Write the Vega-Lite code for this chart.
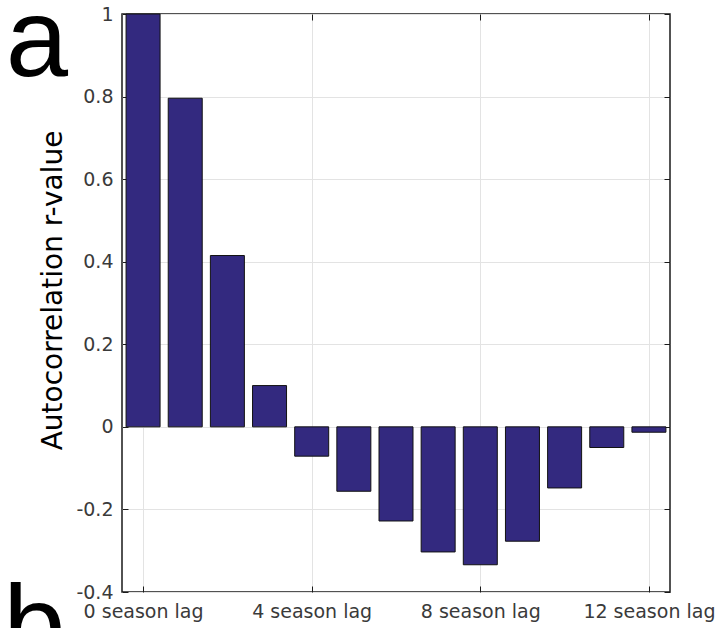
{
  "$schema": "https://vega.github.io/schema/vega-lite/v6.json",
  "width": 548,
  "height": 578,
  "autosize": "none",
  "padding": {"left": 122, "top": 14, "right": 48, "bottom": 36},
  "background": "white",
  "config": {
    "view": {"stroke": "#1a1a1a", "strokeWidth": 1.5},
    "font": "DejaVu Sans",
    "axis": {
      "labelFont": "DejaVu Sans",
      "titleFont": "DejaVu Sans",
      "labelColor": "#3a3a3a",
      "gridColor": "#e3e3e3",
      "gridWidth": 1,
      "tickColor": "#1a1a1a",
      "domain": false
    }
  },
  "resolve": {"axis": {"x": "independent", "y": "independent"}},
  "layer": [
    {
      "data": {
        "values": [
          {"lag": 0, "r": 1.0},
          {"lag": 1, "r": 0.796},
          {"lag": 2, "r": 0.415},
          {"lag": 3, "r": 0.1},
          {"lag": 4, "r": -0.071},
          {"lag": 5, "r": -0.156},
          {"lag": 6, "r": -0.228},
          {"lag": 7, "r": -0.303},
          {"lag": 8, "r": -0.334},
          {"lag": 9, "r": -0.277},
          {"lag": 10, "r": -0.148},
          {"lag": 11, "r": -0.05},
          {"lag": 12, "r": -0.013}
        ]
      },
      "mark": {"type": "bar", "width": 34, "color": "#33297f", "stroke": "#121212", "strokeWidth": 1},
      "encoding": {
        "x": {
          "field": "lag",
          "type": "quantitative",
          "scale": {"domain": [-0.5, 12.5], "nice": false, "zero": false, "padding": 0},
          "axis": {
            "orient": "bottom",
            "title": null,
            "values": [0, 4, 8, 12],
            "labelExpr": "datum.value + ' season lag'",
            "labelFontSize": 19,
            "tickSize": -6,
            "labelPadding": 16,
            "grid": true
          }
        },
        "y": {
          "field": "r",
          "type": "quantitative",
          "scale": {"domain": [-0.4, 1], "nice": false, "zero": false, "padding": 0},
          "axis": {
            "orient": "left",
            "title": "Autocorrelation r-value",
            "titleFontSize": 28,
            "titleFontWeight": "normal",
            "titleColor": "#000000",
            "titlePadding": 8,
            "titleY": 276,
            "values": [-0.4, -0.2, 0, 0.2, 0.4, 0.6, 0.8, 1],
            "labelExpr": "toString(round(datum.value * 10) / 10)",
            "labelFontSize": 19,
            "tickSize": -6,
            "labelPadding": 15,
            "grid": true
          }
        }
      }
    },
    {
      "data": {
        "values": [
          {"label": "a", "lag": -2.52, "r": 0.851},
          {"label": "b", "lag": -2.58, "r": -0.573}
        ]
      },
      "mark": {"type": "text", "font": "Liberation Sans", "fontSize": 112, "align": "center", "baseline": "alphabetic", "color": "#000000"},
      "encoding": {
        "text": {"field": "label"},
        "x": {
          "field": "lag",
          "type": "quantitative",
          "axis": {"orient": "top", "title": null, "values": [0, 4, 8, 12], "labels": false, "tickSize": -6, "grid": false}
        },
        "y": {
          "field": "r",
          "type": "quantitative",
          "axis": {"orient": "right", "title": null, "values": [-0.4, -0.2, 0, 0.2, 0.4, 0.6, 0.8, 1], "labels": false, "tickSize": -6, "grid": false}
        }
      }
    }
  ]
}
